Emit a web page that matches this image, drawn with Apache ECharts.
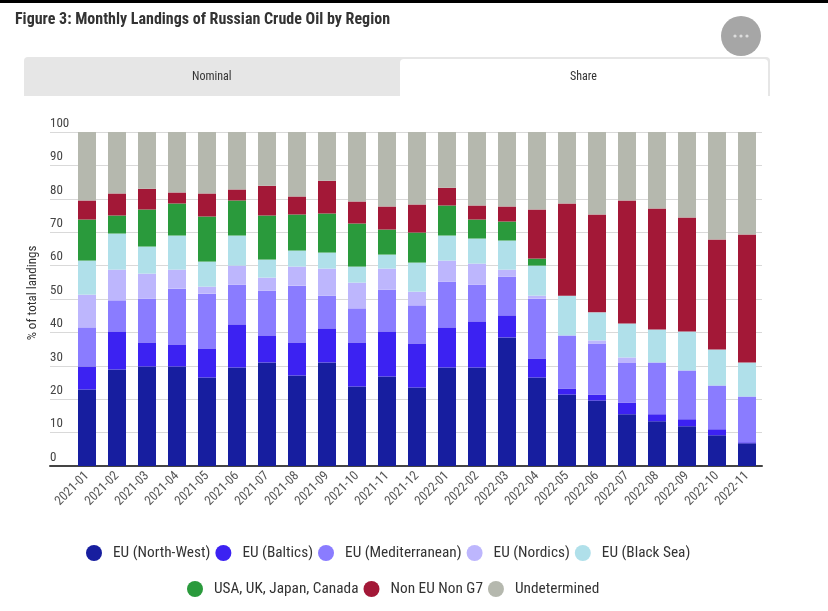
<!DOCTYPE html>
<html>
<head>
<meta charset="utf-8">
<script src="https://cdn.jsdelivr.net/npm/echarts@6/dist/echarts.min.js"></script>
<style>
  html, body { margin: 0; padding: 0; background: #fff; }
  #chart { width: 828px; height: 611px; }
</style>
</head>
<body>
<div id="chart"></div>
<script>
  // Monthly landings of Russian crude oil, share by region (%)
  var months = ["2021-01", "2021-02", "2021-03", "2021-04", "2021-05", "2021-06", "2021-07", "2021-08",
    "2021-09", "2021-10", "2021-11", "2021-12", "2022-01", "2022-02", "2022-03", "2022-04", "2022-05",
    "2022-06", "2022-07", "2022-08", "2022-09", "2022-10", "2022-11"];

  var euNorthWest = [22.9, 28.9, 29.8, 29.8, 26.5, 29.5, 31.0, 27.1, 31.0, 23.8, 26.8, 23.5, 29.5, 29.5, 38.5, 26.5, 21.4, 19.6, 15.5, 13.4, 11.9, 9.2, 6.8];
  var euBaltics = [6.9, 11.4, 7.2, 6.6, 8.7, 12.9, 8.1, 9.9, 10.2, 13.2, 13.5, 13.2, 12.0, 13.8, 6.6, 5.7, 1.8, 1.8, 3.5, 2.1, 2.1, 1.8, 0.3];
  var euMed = [11.7, 9.3, 13.1, 16.7, 16.4, 11.9, 13.4, 17.0, 9.8, 10.2, 12.5, 11.4, 13.7, 11.0, 11.6, 17.9, 15.9, 15.3, 12.0, 15.5, 14.6, 13.1, 13.7];
  var euNordics = [9.8, 9.2, 7.5, 5.7, 2.1, 5.7, 3.9, 5.7, 8.1, 7.7, 6.3, 4.1, 6.3, 6.3, 2.1, 0.9, 0, 0.9, 1.5, 0, 0, 0, 0];
  var euBlackSea = [10.2, 10.8, 8.1, 10.2, 7.5, 9.0, 5.4, 4.8, 4.8, 4.8, 4.2, 8.7, 7.5, 7.5, 8.7, 9.0, 11.9, 8.4, 10.2, 9.9, 11.7, 10.8, 10.2];
  var g7 = [12.3, 5.4, 11.1, 9.6, 13.5, 10.5, 13.2, 10.8, 11.7, 12.9, 7.5, 9.0, 9.0, 5.7, 5.7, 2.1, 0, 0, 0, 0, 0, 0, 0];
  var nonEuNonG7 = [5.7, 6.6, 6.2, 3.3, 6.9, 3.3, 8.9, 5.4, 9.8, 6.6, 6.9, 8.4, 5.3, 4.2, 4.5, 14.7, 27.6, 29.3, 36.8, 36.2, 34.1, 32.9, 38.3];
  var undetermined = [20.5, 18.4, 17.0, 18.1, 18.4, 17.2, 16.1, 19.3, 14.6, 20.8, 22.3, 21.7, 16.7, 22.0, 22.3, 23.2, 21.4, 24.7, 20.5, 22.9, 25.6, 32.2, 30.7];

  var seriesNames = ["EU (North-West)", "EU (Baltics)", "EU (Mediterranean)", "EU (Nordics)", "EU (Black Sea)",
    "USA, UK, Japan, Canada", "Non EU Non G7", "Undetermined"];
  var seriesData = [euNorthWest, euBaltics, euMed, euNordics, euBlackSea, g7, nonEuNonG7, undetermined];
  var colors = ["#171e9f", "#3c22f2", "#8a7cff", "#bdb6fd", "#b0e0ea", "#2a9a3c", "#a31837", "#b5b8ae"];

  var FONT = "'Roboto Condensed', 'Roboto', sans-serif";

  var chart = echarts.init(document.getElementById("chart"), null, { renderer: "canvas" });

  var series = seriesNames.map(function (name, i) {
    return {
      name: name,
      type: "bar",
      stack: "share",
      xAxisIndex: 0,
      yAxisIndex: 0,
      barWidth: 18,
      itemStyle: { color: colors[i] },
      data: seriesData[i]
    };
  });

  var legendText = { color: "#333", fontSize: 15.3, fontFamily: FONT };

  chart.setOption({
    animation: false,
    color: colors,
    textStyle: { fontFamily: FONT },
    title: {
      text: "Figure 3: Monthly Landings of Russian Crude Oil by Region",
      left: 10,
      top: 7,
      textStyle: { fontSize: 16, fontWeight: "bold", color: "#333", fontFamily: FONT }
    },
    graphic: [
      { type: "rect", shape: { x: 0, y: 0, width: 828, height: 3 }, style: { fill: "#000" } },
      { type: "rect", shape: { x: 24, y: 57, width: 746, height: 39, r: [4, 4, 0, 0] }, style: { fill: "#e6e6e6" } },
      { type: "rect", shape: { x: 400, y: 59, width: 368, height: 40, r: [4, 4, 0, 0] }, style: { fill: "#fff" } },
      { type: "text", left: 192, top: 71, style: { text: "Nominal", fill: "#333", font: "12px " + FONT } },
      { type: "text", left: 570, top: 71, style: { text: "Share", fill: "#333", font: "12px " + FONT } },
      { type: "circle", shape: { cx: 741, cy: 36, r: 20 }, style: { fill: "#a6a6a6" } },
      { type: "circle", shape: { cx: 735, cy: 36, r: 1.6 }, style: { fill: "#dcdcdc" } },
      { type: "circle", shape: { cx: 741, cy: 36, r: 1.6 }, style: { fill: "#dcdcdc" } },
      { type: "circle", shape: { cx: 747, cy: 36, r: 1.6 }, style: { fill: "#dcdcdc" } }
    ],
    legend: [
      {
        data: seriesNames.slice(0, 5),
        left: 81,
        top: 540,
        icon: "circle",
        itemWidth: 28,
        itemHeight: 16,
        itemGap: 5,
        textStyle: legendText
      },
      {
        data: seriesNames.slice(5),
        left: 182,
        top: 576,
        icon: "circle",
        itemWidth: 28,
        itemHeight: 16,
        itemGap: 5,
        textStyle: legendText
      }
    ],
    grid: [
      { left: 72, right: 66, top: 132, bottom: 145 },
      { left: 50, right: 66, top: 132, bottom: 145 }
    ],
    xAxis: [
      {
        type: "category",
        gridIndex: 0,
        data: months,
        axisLine: { show: false },
        axisTick: { show: false },
        axisLabel: { rotate: 45, margin: 8, color: "#555", fontSize: 13, fontFamily: FONT, interval: 0 }
      },
      {
        type: "value",
        gridIndex: 1,
        min: 0,
        max: 1,
        axisLine: { show: true, lineStyle: { color: "#444", width: 2 } },
        axisTick: { show: false },
        axisLabel: { show: false },
        splitLine: { show: false }
      }
    ],
    yAxis: [
      { type: "value", gridIndex: 0, min: 0, max: 100, interval: 10, show: false, splitLine: { show: false } },
      {
        type: "value",
        gridIndex: 1,
        min: 0,
        max: 100,
        interval: 10,
        name: "% of total landings",
        nameLocation: "middle",
        nameRotate: 90,
        nameGap: 8,
        nameTextStyle: { color: "#333", fontSize: 13, fontFamily: FONT, padding: [0, 0, 0, 12] },
        axisLine: { show: false },
        axisTick: { show: false },
        axisLabel: {
          inside: true,
          margin: 0,
          align: "left",
          verticalAlign: "bottom",
          padding: [0, 0, 2, 0],
          color: "#444",
          fontSize: 13,
          fontFamily: FONT
        },
        splitLine: { lineStyle: { color: "#d9d9d9", width: 1 } }
      }
    ],
    series: series
  });

  window.addEventListener("resize", function () { chart.resize(); });
</script>
</body>
</html>
